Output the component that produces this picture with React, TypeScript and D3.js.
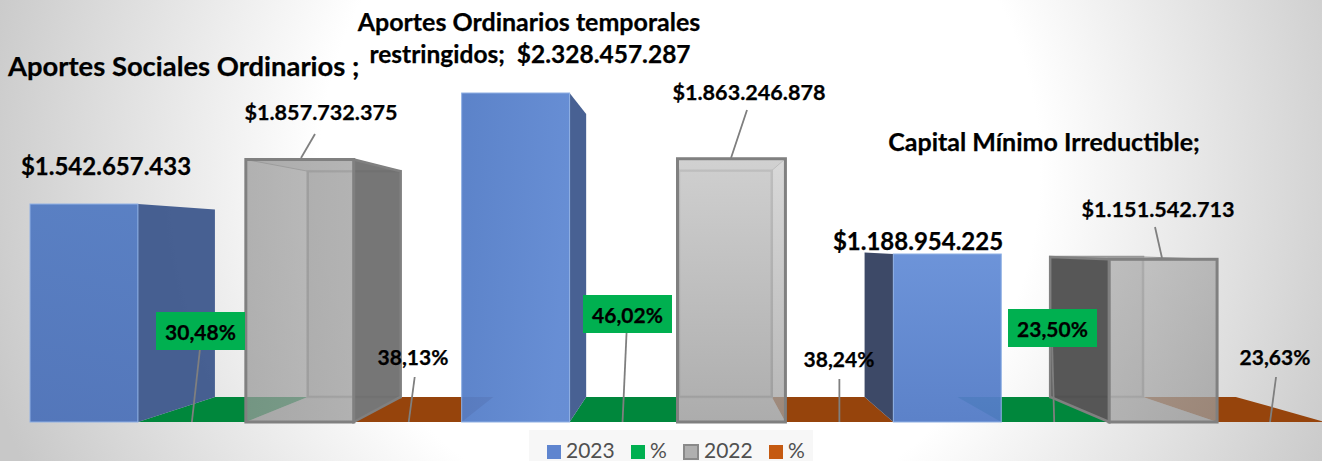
import React from 'react';
import * as d3 from 'd3';

const W = 1322, H = 461;

const categories = ['Aportes Sociales Ordinarios', 'Aportes Ordinarios temporales restringidos', 'Capital Mínimo Irreductible'];
const values2023 = [1542657433, 2328457287, 1188954225];
const values2022 = [1857732375, 1863246878, 1151542713];
const pct2023 = ['30,48%', '46,02%', '23,50%'];
const pct2022 = ['38,13%', '38,24%', '23,63%'];
const moneyLabels2023 = ['$1.542.657.433', '$2.328.457.287', '$1.188.954.225'];
const moneyLabels2022 = ['$1.857.732.375', '$1.863.246.878', '$1.151.542.713'];
const seriesNames = ['2023', '%', '2022', '%'];

const FONT = 'Lato, Carlito, sans-serif';

// 4 slots per category: blue, green, gray, orange
const slots = categories.flatMap((_, i) => [0, 1, 2, 3].map(s => `${i}-${s}`));
const x = d3.scaleBand<string>().domain(slots).range([30, 1325]);
const y = d3.scaleLinear().domain([0, 2328457287]).range([422, 93]);

// perspective of the 3d chart
const VP = { x: 688, y: 243 }, K = 0.86;
const bx = (px: number) => VP.x + (px - VP.x) * K;
const by = (py: number) => VP.y + (py - VP.y) * K;
const pts = (list: number[][]) => list.map(p => p.join(',')).join(' ');

const Floor = ({ slot, fill }: { slot: string; fill: string }) => {
  const x0 = x(slot)!, x1 = x0 + x.bandwidth();
  const b = y(0);
  return <polygon points={pts([[x0, b], [x1, b], [bx(x1), by(b)], [bx(x0), by(b)]])} fill={fill} />;
};

const Bar3D = ({ slot, value, kind, cat }: { slot: string; value: number; kind: 'blue' | 'gray'; cat: number }) => {
  const x0 = x(slot)!, x1 = x0 + x.bandwidth();
  const t = y(value), b = y(0);
  const stroke = kind === 'gray' ? '#808080' : '#8fb0e4';
  const sw = kind === 'gray' ? 3 : 1;
  const rightSide = x1 < VP.x;
  const sideX = rightSide ? x1 : x0;
  const side = pts([[sideX, t], [bx(sideX), by(t)], [bx(sideX), by(b)], [sideX, b]]);
  const sideFill = kind === 'blue'
    ? (rightSide ? '#38548a' : '#2c3a5a')
    : (rightSide ? '#6e6e6e' : '#4c4c4c');
  return (
    <g>
      {kind === 'gray' && (
        <g>
          <rect x={bx(x0)} y={by(t)} width={bx(x1) - bx(x0)} height={by(b) - by(t)} fill="#b5b5b5" fillOpacity={0.5} stroke="#989898" strokeWidth={2.5} />
          <polygon points={pts([[x0, t], [x1, t], [bx(x1), by(t)], [bx(x0), by(t)]])} fill="#c4c4c4" fillOpacity={0.5} stroke="#989898" strokeWidth={1} />
          <polygon points={pts([[x0, b], [x1, b], [bx(x1), by(b)], [bx(x0), by(b)]])} fill="#b0b0b0" fillOpacity={0.5} />
        </g>
      )}
      {Math.abs(sideX - bx(sideX)) > 2 && <polygon points={side} fill={sideFill} fillOpacity={0.92} stroke={kind === 'gray' ? stroke : 'none'} strokeWidth={kind === 'gray' ? 2.5 : 0} />}
      <rect x={x0} y={t} width={x.bandwidth()} height={b - t} fill={`url(#${kind}${cat})`} fillOpacity={kind === 'gray' ? 0.75 : 0.95} stroke={stroke} strokeWidth={sw} />
    </g>
  );
};

const Leader = ({ d }: { d: number[] }) => (
  <line x1={d[0]} y1={d[1]} x2={d[2]} y2={d[3]} stroke="#7f7f7f" strokeWidth={1.8} />
);

const Label = ({ x: lx, y: ly, size, children, anchor = 'middle' }: any) => (
  <text x={lx} y={ly} fontFamily={FONT} fontWeight={700} fontSize={size} textAnchor={anchor} fill="#000" stroke="#000" strokeWidth={0.25} style={{ whiteSpace: 'pre' }}>{children}</text>
);

export default function App() {
  const base = y(0);
  const mid = (i: number, s: number) => x(`${i}-${s}`)! + x.bandwidth() / 2;
  const legendX = [547, 631, 684, 769];
  const legendFill = ['#5f85cf', '#00b050', '#b0b0b0', '#c55a11'];
  const legendTextX = [566, 650, 704, 788];
  // callout placement relative to slot centre
  const greenTop = [8, 3, -3];
  const greenBottom = [0, -1, -1];
  const orangeTop = [7, 0, 5];
  const orangeBottom = [1, 0, -1];
  const orangeTx = [413, 839, 1275];
  const orangeTy = [365, 367, 365];
  const boxY = [312, 295, 309];
  const boxX = [156, 583, 1008];
  const money22Y = [120, 100, 217];
  const money22X = [321, 749, 1158];
  const leader22 = [[315, 134, 301, 158], [747, 110, 731, 158], [1155, 227, 1162, 258]];

  return (
    <svg width={W} height={H} style={{ position: 'absolute', left: 0, top: 0 }} xmlns="http://www.w3.org/2000/svg">
      <defs>
        <radialGradient id="bg" cx={680} cy={170} r={720} gradientUnits="userSpaceOnUse">
          <stop offset="0.5" stopColor="#ffffff" />
          <stop offset="1" stopColor="#c8c8c8" />
        </radialGradient>
        <linearGradient id="blue0" x1="0" y1="0" x2="0" y2="1"><stop offset="0" stopColor="#537bc2" /><stop offset="1" stopColor="#4d72b9" /></linearGradient>
        <linearGradient id="blue1" x1="0" y1="0" x2="1" y2="0.2"><stop offset="0" stopColor="#537cc6" /><stop offset="1" stopColor="#5f88d2" /></linearGradient>
        <linearGradient id="blue2" x1="0" y1="0" x2="0" y2="1"><stop offset="0" stopColor="#658ed7" /><stop offset="1" stopColor="#537bc6" /></linearGradient>
        <linearGradient id="gray0" x1="0" y1="0" x2="1" y2="0"><stop offset="0" stopColor="#9a9a9a" /><stop offset="1" stopColor="#a6a6a6" /></linearGradient>
        <linearGradient id="gray1" x1="0" y1="0" x2="0" y2="1"><stop offset="0" stopColor="#cccccc" /><stop offset="1" stopColor="#9e9e9e" /></linearGradient>
        <linearGradient id="gray2" x1="0" y1="0" x2="1" y2="1"><stop offset="0" stopColor="#b6b6b6" /><stop offset="1" stopColor="#9c9c9c" /></linearGradient>
      </defs>
      <rect x={0} y={0} width={W} height={H} fill="url(#bg)" />

      {categories.map((_, i) => <Floor key={'g' + i} slot={`${i}-1`} fill="#00873c" />)}
      {categories.map((_, i) => <Floor key={'o' + i} slot={`${i}-3`} fill="#96440c" />)}

      {categories.map((_, i) => (
        <g key={i}>
          <Bar3D slot={`${i}-0`} value={values2023[i]} kind="blue" cat={i} />
          <Bar3D slot={`${i}-2`} value={values2022[i]} kind="gray" cat={i} />
        </g>
      ))}

      {/* callouts */}
      {categories.map((_, i) => (
        <g key={'c' + i}>
          <Leader d={[mid(i, 1) + greenTop[i], boxY[i] + 38, mid(i, 1) + greenBottom[i], base]} />
          <rect x={boxX[i]} y={boxY[i]} width={89} height={38} fill="#00b050" />
          <Label x={boxX[i] + 44.5} y={boxY[i] + 28} size={21}>{pct2023[i]}</Label>
          <Leader d={[mid(i, 3) + orangeTop[i], orangeTy[i] + 12, mid(i, 3) + orangeBottom[i], base]} />
          <Label x={orangeTx[i]} y={orangeTy[i]} size={21}>{pct2022[i]}</Label>
          <Leader d={leader22[i]} />
          <Label x={money22X[i]} y={money22Y[i]} size={21.6}>{moneyLabels2022[i]}</Label>
        </g>
      ))}

      <Label x={106} y={175} size={24}>{moneyLabels2023[0]}</Label>
      <Label x={918} y={250} size={24}>{moneyLabels2023[2]}</Label>

      <Label x={8} y={76} size={27.4} anchor="start">Aportes Sociales Ordinarios ;</Label>
      <Label x={529} y={31} size={25}>Aportes Ordinarios temporales</Label>
      <Label x={530} y={63} size={24.5}>{`restringidos;  ${moneyLabels2023[1]}`}</Label>
      <Label x={1044} y={151} size={25}>Capital Mínimo Irreductible;</Label>

      {/* legend */}
      <rect x={529} y={430} width={284} height={31} fill="#f7f7f7" />
      {seriesNames.map((n, i) => (
        <g key={i}>
          <rect x={legendX[i]} y={445} width={14} height={14} fill={legendFill[i]} stroke={i === 2 ? '#8a8a8a' : 'none'} strokeWidth={2} />
          <text x={legendTextX[i]} y={458} fontFamily={FONT} fontSize={21} fill="#505050">{n}</text>
        </g>
      ))}
    </svg>
  );
}
